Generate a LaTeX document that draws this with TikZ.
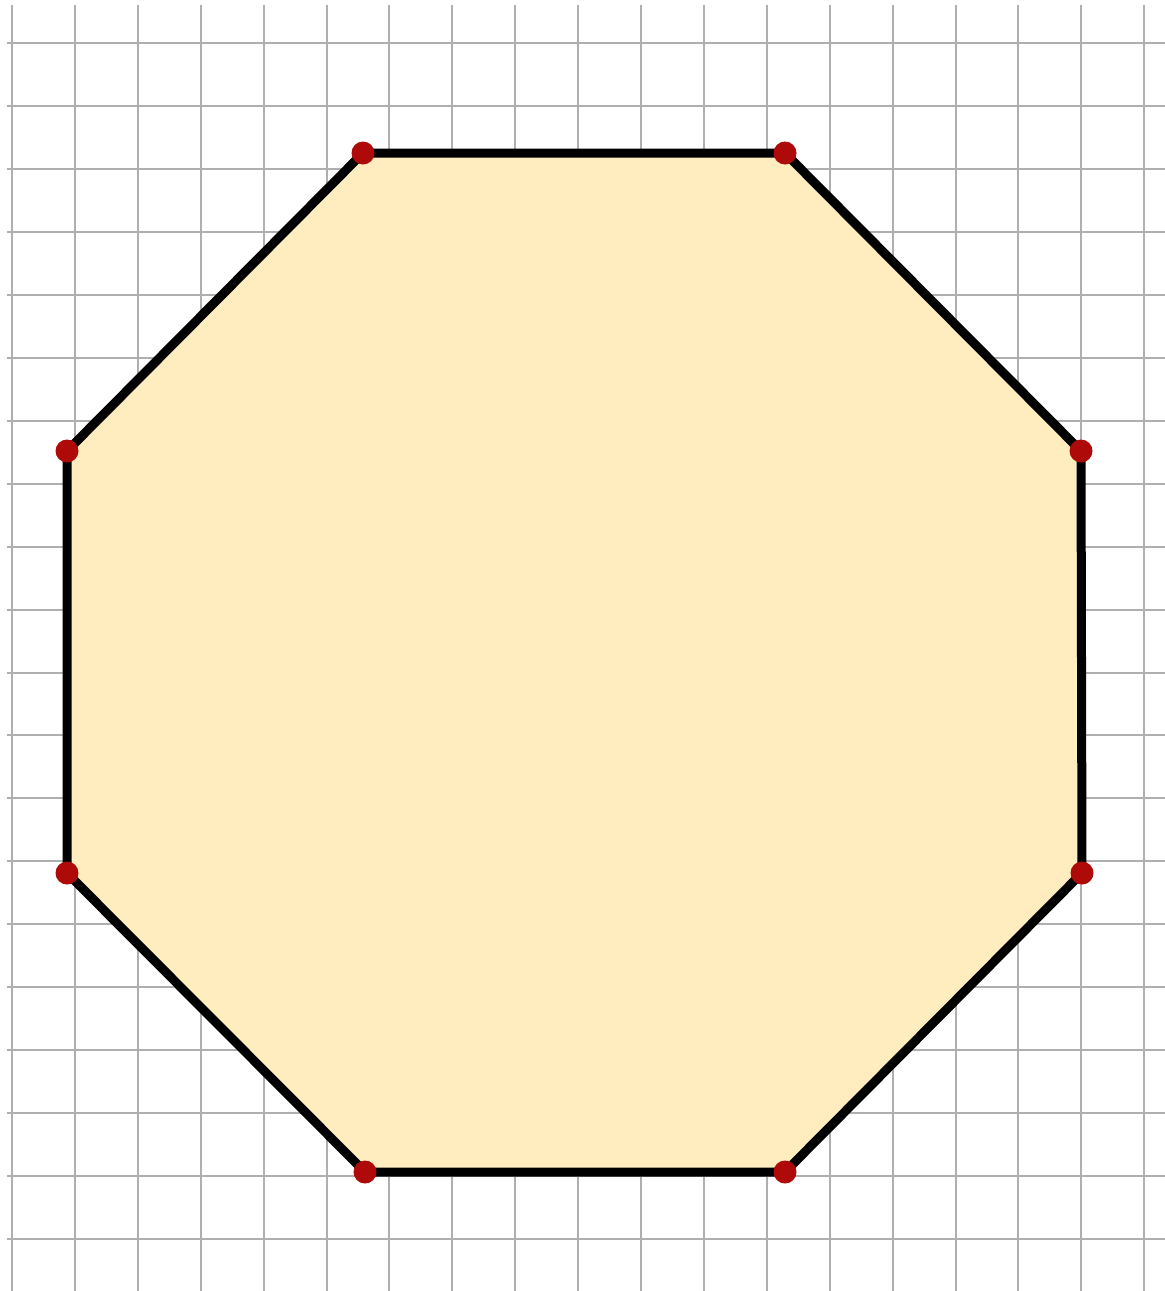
\documentclass[tikz,border=0pt]{standalone}
\definecolor{gridgray}{RGB}{175,175,175}
\definecolor{octfill}{RGB}{255,237,192}
\definecolor{dotred}{RGB}{175,10,10}
\tikzset{
  gridline/.style={draw=gridgray,line width=2pt},
  edge/.style={draw=black,line width=9pt,line join=miter},
  vdot/.style={circle,fill=dotred,inner sep=0pt,minimum size=23pt}
}
\begin{document}
\begin{tikzpicture}[x=1pt,y=-1pt]
\useasboundingbox (0,0) rectangle (1165,1291);
\fill[white] (0,0) rectangle (1165,1291);
% grid
\foreach \k in {0,...,18} {
  \draw[gridline] ({12+62.9*\k},5) -- ({12+62.9*\k},1291);
}
\foreach \k in {0,...,19} {
  \draw[gridline] (7,{43+62.95*\k}) -- (1165,{43+62.95*\k});
}
% vertices
\coordinate (A) at (363,153);
\coordinate (B) at (785,153);
\coordinate (C) at (1081,451);
\coordinate (D) at (1082,873);
\coordinate (E) at (785,1172);
\coordinate (F) at (365,1172);
\coordinate (G) at (67,873);
\coordinate (H) at (67,451);
\fill[octfill] (A) -- (B) -- (C) -- (D) -- (E) -- (F) -- (G) -- (H) -- cycle;
\draw[edge] (A) -- (B) -- (C) -- (D) -- (E) -- (F) -- (G) -- (H) -- cycle;
\foreach \p in {A,B,C,D,E,F,G,H} {
  \node[vdot] (dot\p) at (\p) {};
}
\end{tikzpicture}
\end{document}
